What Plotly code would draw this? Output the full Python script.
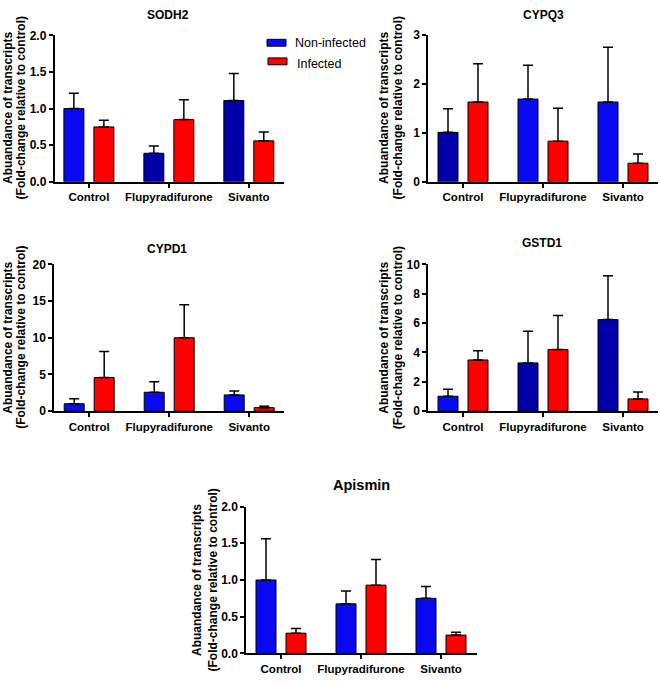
import plotly.graph_objects as go

# ---------------- data ----------------
groups = ["Control", "Flupyradifurone", "Sivanto"]
series_names = ["Non-infected", "Infected"]
genes = ["SODH2", "CYPQ3", "CYPD1", "GSTD1", "Apismin"]

sodh2_non = [1.00, 0.39, 1.11]
sodh2_non_err = [0.21, 0.10, 0.37]
sodh2_inf = [0.75, 0.85, 0.56]
sodh2_inf_err = [0.09, 0.27, 0.12]

cypq3_non = [1.01, 1.69, 1.63]
cypq3_non_err = [0.48, 0.69, 1.12]
cypq3_inf = [1.63, 0.83, 0.38]
cypq3_inf_err = [0.78, 0.67, 0.19]

cypd1_non = [1.02, 2.58, 2.22]
cypd1_non_err = [0.67, 1.42, 0.54]
cypd1_inf = [4.58, 10.0, 0.49]
cypd1_inf_err = [3.55, 4.5, 0.18]

gstd1_non = [1.02, 3.29, 6.24]
gstd1_non_err = [0.47, 2.15, 2.98]
gstd1_inf = [3.49, 4.20, 0.84]
gstd1_inf_err = [0.62, 2.31, 0.47]

apis_non = [1.00, 0.675, 0.75]
apis_non_err = [0.56, 0.175, 0.16]
apis_inf = [0.276, 0.93, 0.25]
apis_inf_err = [0.064, 0.35, 0.04]

y_max = [2.0, 3, 20, 10, 2.0]
y_dtick = [0.5, 1, 5, 2, 0.5]
y_fmt = [".1f", "d", "d", "d", ".1f"]

non_vals = [sodh2_non, cypq3_non, cypd1_non, gstd1_non, apis_non]
non_errs = [sodh2_non_err, cypq3_non_err, cypd1_non_err, gstd1_non_err, apis_non_err]
inf_vals = [sodh2_inf, cypq3_inf, cypd1_inf, gstd1_inf, apis_inf]
inf_errs = [sodh2_inf_err, cypq3_inf_err, cypd1_inf_err, gstd1_inf_err, apis_inf_err]

# ---------------- style ----------------
W, H = 660, 682
BLUE = "#0a0af2"
DBLUE = "#0000aa"
RED = "#ff0000"
dark_flags = [[0, 1, 1], [1, 0, 0], [0, 0, 0], [0, 1, 1], [0, 0, 0]]
FONT = "Liberation Sans, Arial, sans-serif"

# panel geometry in pixels: (x_left, x_right, y_top, y_bottom, x_range_left, x_range_right)
panels = [
    (54.5, 284, 29, 178.5, -0.43, 2.44),
    (428, 658, 28.5, 178.5, -0.4375, 2.4375),
    (54, 284, 262.7, 412.7, -0.44, 2.435),
    (428, 658, 262.7, 412.7, -0.4375, 2.4375),
    (246, 477, 510, 660, -0.4375, 2.45),
]
titles_pos = [(168, 8, 12), (543, 8, 12), (167, 247, 12), (542, 241, 12), (361, 488, 14.5)]
ylab_pos = [(8.5, 21, 103.5), (384, 397.5, 103), (8, 21, 337.7), (384, 397.5, 337.7), (197, 212.5, 585)]

fig = go.Figure()
annotations = []
for i in range(5):
    xl, xr, yt, yb, r0, r1 = panels[i]
    sfx = "" if i == 0 else str(i + 1)
    xa, ya = "x" + sfx, "y" + sfx
    blue_cols = [DBLUE if f else BLUE for f in dark_flags[i]]
    fig.add_trace(go.Bar(
        x=groups, y=non_vals[i], name=series_names[0], xaxis=xa, yaxis=ya,
        marker=dict(color=blue_cols, line=dict(color="black", width=1)),
        error_y=dict(type="data", symmetric=False, array=non_errs[i],
                     arrayminus=[0, 0, 0], color="black", thickness=1.5, width=5),
        showlegend=False,
    ))
    fig.add_trace(go.Bar(
        x=groups, y=inf_vals[i], name=series_names[1], xaxis=xa, yaxis=ya,
        marker=dict(color=RED, line=dict(color="black", width=1)),
        error_y=dict(type="data", symmetric=False, array=inf_errs[i],
                     arrayminus=[0, 0, 0], color="black", thickness=1.5, width=5),
        showlegend=False,
    ))
    fig.layout["xaxis" + sfx] = dict(
        domain=[xl / W, xr / W], anchor=ya, type="category", range=[r0, r1],
        showline=True, linecolor="black", linewidth=1.5, ticks="outside",
        ticklen=4, tickwidth=1.5, tickcolor="black", showgrid=False, zeroline=False,
        tickfont=dict(family=FONT, size=11.5, color="black", weight="bold"),
        fixedrange=True,
    )
    fig.layout["yaxis" + sfx] = dict(
        domain=[1 - yb / H, 1 - yt / H], anchor=xa, range=[0, y_max[i]],
        dtick=y_dtick[i], tick0=0, tickformat=y_fmt[i],
        showline=True, linecolor="black", linewidth=1.5, ticks="outside",
        ticklen=4, tickwidth=1.5, tickcolor="black", showgrid=False, zeroline=False,
        tickfont=dict(family=FONT, size=12, color="black", weight="bold"),
        fixedrange=True,
    )
    tx, ty, ts = titles_pos[i]
    annotations.append(dict(
        text=genes[i], x=tx / W, y=1 - ty / H, xref="paper", yref="paper",
        showarrow=False, xanchor="center", yanchor="middle",
        font=dict(family=FONT, size=ts, color="black", weight="bold"),
    ))
    l1x, l2x, ly = ylab_pos[i]
    for txt, lx in (("Abuandance of transcripts", l1x), ("(Fold-change relative to control)", l2x)):
        annotations.append(dict(
            text=txt, x=lx / W, y=1 - ly / H, xref="paper", yref="paper",
            showarrow=False, xanchor="center", yanchor="middle", textangle=-90,
            font=dict(family=FONT, size=12, color="black", weight="bold"),
        ))

# legend (manual keys)
shapes = []
legend_items = [(series_names[0], BLUE, 267, 286, 33, 40, 293, 37),
                (series_names[1], RED, 268, 287, 52, 59, 295, 58)]
for name, col, x0, x1, y0, y1, tx, ty in legend_items:
    shapes.append(dict(type="rect", xref="paper", yref="paper",
                       x0=x0 / W, x1=x1 / W, y0=1 - y1 / H, y1=1 - y0 / H,
                       fillcolor=col, line=dict(color="black", width=1)))
    annotations.append(dict(
        text=name, x=tx / W, y=1 - ty / H, xref="paper", yref="paper",
        showarrow=False, xanchor="left", yanchor="middle",
        font=dict(family=FONT, size=12.5, color="black"),
    ))

fig.update_layout(
    width=W, height=H, margin=dict(l=0, r=0, t=0, b=0),
    paper_bgcolor="white", plot_bgcolor="white",
    barmode="group", bargap=0.25, bargroupgap=1 / 3,
    annotations=annotations, shapes=shapes, showlegend=False,
)

fig.write_html("out.html", config={"displayModeBar": False},
               post_script="document.body.style.margin='0px';")
